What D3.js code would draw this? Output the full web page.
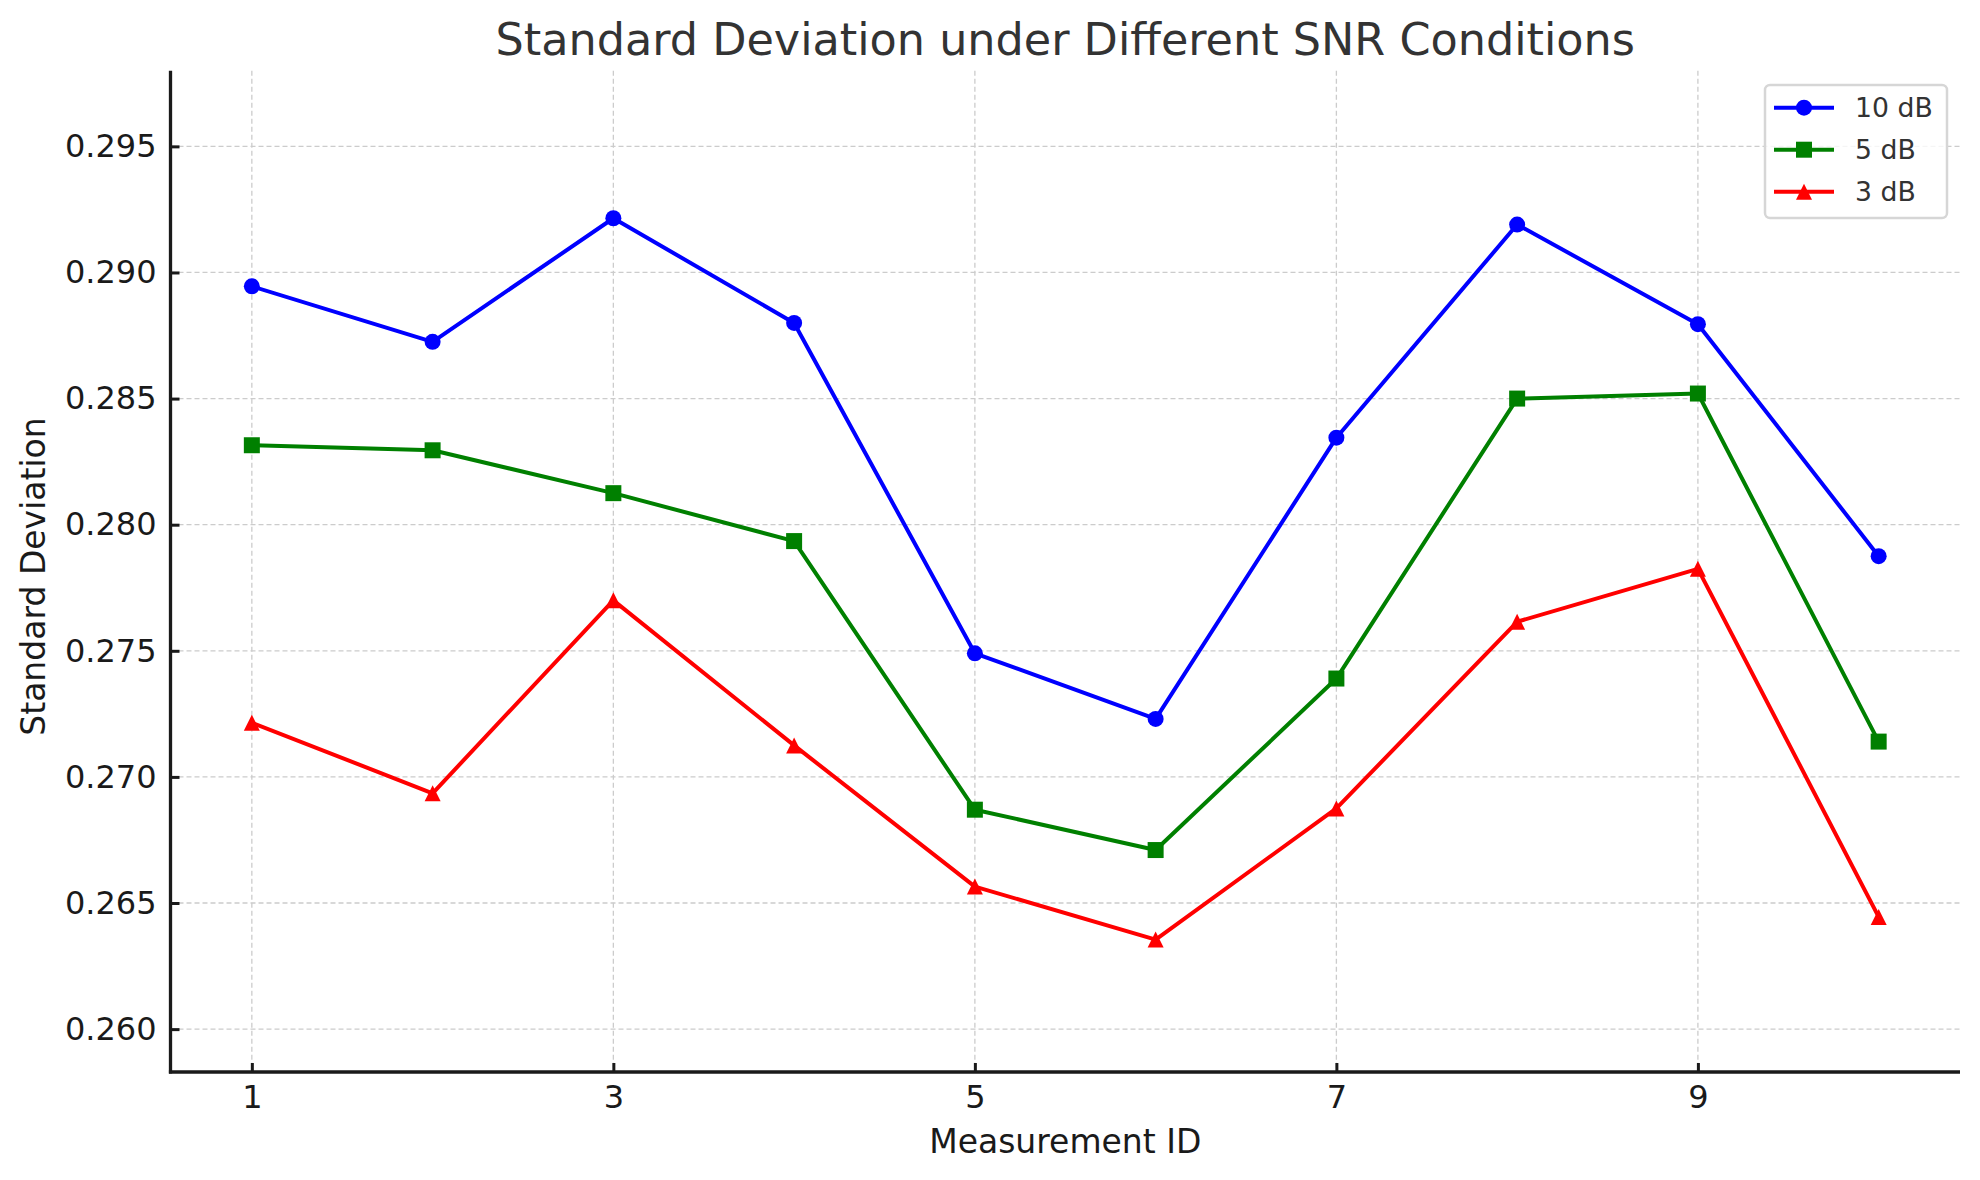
<!DOCTYPE html>
<html>
<head>
<meta charset="utf-8">
<script src="https://cdn.jsdelivr.net/npm/d3@7"></script>
<style>
    body { margin: 0; background: #fff; }
    text { font-family: 'DejaVu Sans', sans-serif; }
</style>
</head>
<body>
<svg id="chart"></svg>
<script>
const ids = [1, 2, 3, 4, 5, 6, 7, 8, 9, 10];
const sd10 = [0.28945, 0.28725, 0.29215, 0.2880, 0.2749, 0.2723, 0.28345, 0.2919, 0.28795, 0.27875];
const sd5 = [0.28315, 0.28295, 0.28125, 0.27935, 0.2687, 0.2671, 0.2739, 0.2850, 0.2852, 0.2714];
const sd3 = [0.27215, 0.26935, 0.2770, 0.27125, 0.26565, 0.26355, 0.26875, 0.27615, 0.27825, 0.26445];
const seriesNames = ['10 dB', '5 dB', '3 dB'];
const xTicks = [1, 3, 5, 7, 9];
const yTicks = [0.260, 0.265, 0.270, 0.275, 0.280, 0.285, 0.290, 0.295];

const svgWidth = 1980, svgHeight = 1180;
const margin = { top: 70.7, right: 20, bottom: 108, left: 170.5 };
const width = svgWidth - margin.left - margin.right;
const height = svgHeight - margin.top - margin.bottom;

const svg = d3.select('#chart').attr('width', svgWidth).attr('height', svgHeight);
const g = svg.append('g').attr('transform', 'translate(' + margin.left + ',' + margin.top + ')');

const xScale = d3.scaleLinear().domain([0.55, 10.45]).range([0, width]);
const yScale = d3.scaleLinear().domain([0.2583, 0.2980]).range([height, 0]);

// matplotlib-like triangle: width == height
const triangleUp = {
    draw(context, size) {
        const h = Math.sqrt(size) / 2;
        context.moveTo(0, -h);
        context.lineTo(h, h);
        context.lineTo(-h, h);
        context.closePath();
    }
};

// grid
g.append('g').selectAll('line').data(yTicks).enter().append('line')
    .attr('x1', 0).attr('x2', width)
    .attr('y1', d => yScale(d)).attr('y2', d => yScale(d))
    .style('stroke', '#cccccc').style('stroke-width', 1.3).style('stroke-dasharray', '5,3');
g.append('g').selectAll('line').data(xTicks).enter().append('line')
    .attr('y1', 0).attr('y2', height)
    .attr('x1', d => xScale(d)).attr('x2', d => xScale(d))
    .style('stroke', '#cccccc').style('stroke-width', 1.3).style('stroke-dasharray', '5,3');

const xAxis = d3.axisBottom(xScale).tickValues(xTicks).tickSize(-9).tickPadding(13).tickFormat(d3.format('d'));
const yAxis = d3.axisLeft(yScale).tickValues(yTicks).tickSize(-9).tickPadding(14).tickFormat(d3.format('.3f'));

g.append('g').attr('transform', 'translate(0,' + height + ')')
    .call(xAxis)
    .call(a => {
        a.select('.domain').remove();
        a.selectAll('.tick line').attr('stroke', '#1a1a1a').attr('stroke-width', 3);
        a.selectAll('.tick text').attr('fill', '#1a1a1a').style('font-size', '32px').attr('dy', '0.71em');
    });

g.append('g')
    .call(yAxis)
    .call(a => {
        a.select('.domain').remove();
        a.selectAll('.tick line').attr('stroke', '#1a1a1a').attr('stroke-width', 3);
        a.selectAll('.tick text').attr('fill', '#1a1a1a').style('font-size', '32px');
    });

// spines
g.append('line').attr('x1', 0).attr('x2', 0).attr('y1', 0).attr('y2', height + 1.6)
    .style('stroke', '#1a1a1a').style('stroke-width', 3.3);
g.append('line').attr('x1', -1.6).attr('x2', width).attr('y1', height).attr('y2', height)
    .style('stroke', '#1a1a1a').style('stroke-width', 3.3);

const series = [
    { name: seriesNames[0], values: sd10, color: '#0000ff', symbol: d3.symbolCircle, size: 201 },
    { name: seriesNames[1], values: sd5, color: '#008000', symbol: d3.symbolSquare, size: 256 },
    { name: seriesNames[2], values: sd3, color: '#ff0000', symbol: triangleUp, size: 256 }
];

const line = d3.line().x((d, i) => xScale(ids[i])).y(d => yScale(d));

series.forEach(s => {
    const sg = g.append('g');
    sg.append('path').datum(s.values)
        .attr('d', line)
        .attr('fill', 'none')
        .attr('stroke', s.color)
        .attr('stroke-width', 4)
        .attr('stroke-linejoin', 'round');
    sg.selectAll('.pt').data(s.values).enter().append('path')
        .attr('class', 'pt')
        .attr('transform', (d, i) => 'translate(' + xScale(ids[i]) + ',' + yScale(d) + ')')
        .attr('d', d3.symbol().type(s.symbol).size(s.size))
        .attr('fill', s.color);
});

// legend
const lg = svg.append('g').attr('transform', 'translate(1765,85)');
lg.append('rect').attr('width', 182).attr('height', 133).attr('rx', 5)
    .attr('fill', 'rgba(255,255,255,0.8)').attr('stroke', '#d6d6d6').attr('stroke-width', 2.5);
series.forEach((s, i) => {
    const row = lg.append('g').attr('transform', 'translate(0,' + (22.7 + i * 42) + ')');
    row.append('line').attr('x1', 9).attr('x2', 69).attr('y1', 0).attr('y2', 0)
        .attr('stroke', s.color).attr('stroke-width', 4);
    row.append('path').attr('transform', 'translate(39,0)')
        .attr('d', d3.symbol().type(s.symbol).size(s.size)).attr('fill', s.color);
    row.append('text').attr('x', 90).attr('y', 0).attr('dy', '0.36em')
        .attr('fill', '#333333').style('font-size', '26.7px').text(s.name);
});

// title and axis labels
svg.append('text').attr('x', margin.left + width / 2).attr('y', 39).attr('dy', '0.36em')
    .attr('text-anchor', 'middle').attr('fill', '#333333').style('font-size', '44.5px')
    .text('Standard Deviation under Different SNR Conditions');
svg.append('text').attr('x', margin.left + width / 2).attr('y', 1153)
    .attr('text-anchor', 'middle').attr('fill', '#1a1a1a').style('font-size', '33px')
    .text('Measurement ID');
svg.append('text').attr('transform', 'translate(45,576.5) rotate(-90)')
    .attr('text-anchor', 'middle').attr('fill', '#1a1a1a').style('font-size', '33px')
    .text('Standard Deviation');
</script>
</body>
</html>
